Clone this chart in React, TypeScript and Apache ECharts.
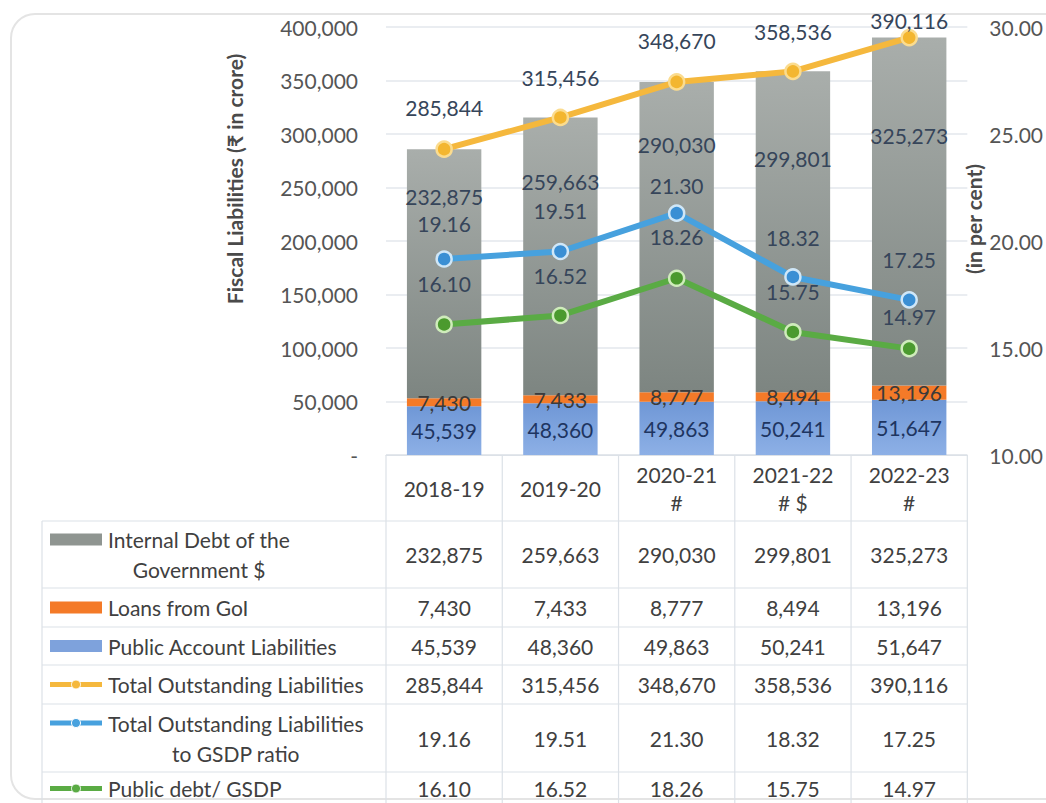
import React, { useEffect, useRef } from "react";
import * as echarts from "echarts";

// ---------- data ----------
const categories = ["2018-19", "2019-20", "2020-21\n#", "2021-22\n# $", "2022-23\n#"];
const internalDebt = [232875, 259663, 290030, 299801, 325273];
const loansFromGoI = [7430, 7433, 8777, 8494, 13196];
const publicAccount = [45539, 48360, 49863, 50241, 51647];
const totalLiabilities = [285844, 315456, 348670, 358536, 390116];
const tolToGsdp = [19.16, 19.51, 21.3, 18.32, 17.25];
const publicDebtToGsdp = [16.1, 16.52, 18.26, 15.75, 14.97];
const leftAxisMin = 0;
const leftAxisMax = 400000;
const leftAxisStep = 50000;
const rightAxisMin = 10;
const rightAxisMax = 30;
const rightAxisStep = 5;

// ---------- styling ----------
const FONT = "Lato, 'Open Sans', sans-serif";
const FS = 21;
const LABEL_DARK = "#36455a";
const TEXT = "#404040";
const GRID_LINE = "#e3e7ec";
const TABLE_LINE = "#dce1e7";
const C_YELLOW = "#f5b83d";
const C_BLUE = "#47a1de";
const C_GREEN = "#5aab44";
const C_ORANGE = "#f47a28";

// label placement tweaks (pixels), mirroring the hand-placed labels of the original
const debtLabelGap = [37, 54, 52, 77, 87];
const yellowLabelGap = [22, 21, 22, 21, -2];
const blueLabelGap = [16, 22, 8, 20, 21];
const greenLabelGap = [22, 21, 22, 21, 13];

const fmtInt = (v: number) => Number(v).toLocaleString("en-US");
const fmt2 = (v: number) => Number(v).toFixed(2);

const greyGrad = () =>
  new echarts.graphic.LinearGradient(0, 0, 0, 1, [
    { offset: 0, color: "#a9aeab" },
    { offset: 1, color: "#7d8581" },
  ]);
const blueGrad = () =>
  new echarts.graphic.LinearGradient(0, 0, 0, 1, [
    { offset: 0, color: "#6f97d6" },
    { offset: 1, color: "#8db0e6" },
  ]);

function buildOption(): any {
  const lineSeries = (
    name: string,
    data: number[],
    axis: number,
    color: string,
    fill: string,
    border: string,
    gaps: number[],
    fmt: (v: number) => string
  ) => ({
    name,
    type: "line",
    yAxisIndex: axis,
    data: data.map((v, i) => ({ value: v, label: { distance: gaps[i] } })),
    symbol: "circle",
    symbolSize: 15,
    lineStyle: { color, width: 6 },
    itemStyle: { color: fill, borderColor: border, borderWidth: 2.5 },
    label: {
      show: true,
      position: "top",
      fontFamily: FONT,
      fontSize: FS,
      color: LABEL_DARK,
      formatter: (p: any) => fmt(p.value),
    },
    z: 5,
  });

  return {
    animation: false,
    textStyle: { fontFamily: FONT },
    grid: { left: 386, right: 78, top: 27, bottom: 348, containLabel: false },
    xAxis: {
      type: "category",
      data: categories,
      axisLine: { show: true, lineStyle: { color: TABLE_LINE, width: 1 } },
      axisTick: { show: false },
      axisLabel: {
        fontFamily: FONT,
        fontSize: FS,
        color: TEXT,
        lineHeight: 28,
        verticalAlign: "middle",
        margin: 33,
        interval: 0,
      },
    },
    yAxis: [
      {
        type: "value",
        min: leftAxisMin,
        max: leftAxisMax,
        interval: leftAxisStep,
        axisLine: { show: false },
        axisTick: { show: false },
        splitLine: { lineStyle: { color: GRID_LINE, width: 1.5 } },
        axisLabel: {
          fontFamily: FONT,
          fontSize: FS,
          color: "#555",
          margin: 28,
          formatter: (v: number) => (v === 0 ? "-" : fmtInt(v)),
        },
      },
      {
        type: "value",
        min: rightAxisMin,
        max: rightAxisMax,
        interval: rightAxisStep,
        axisLine: { show: false },
        axisTick: { show: false },
        splitLine: { show: false },
        axisLabel: {
          fontFamily: FONT,
          fontSize: FS,
          color: "#555",
          margin: 22,
          formatter: (v: number) => fmt2(v),
        },
      },
    ],
    series: [
      {
        name: "Public Account Liabilities",
        type: "bar",
        stack: "debt",
        barWidth: "64%",
        data: publicAccount,
        itemStyle: { color: blueGrad() },
        label: {
          show: true,
          position: "inside",
          fontFamily: FONT,
          fontSize: FS,
          color: "#1e3561",
          formatter: (p: any) => fmtInt(p.value),
        },
      },
      {
        name: "Loans from GoI",
        type: "bar",
        stack: "debt",
        data: loansFromGoI,
        itemStyle: { color: C_ORANGE },
        label: {
          show: true,
          position: "inside",
          fontFamily: FONT,
          fontSize: FS,
          color: "#3b3b3b",
          formatter: (p: any) => fmtInt(p.value),
        },
      },
      {
        name: "Internal Debt of the Government $",
        type: "bar",
        stack: "debt",
        data: internalDebt.map((v, i) => ({ value: v, label: { distance: debtLabelGap[i] } })),
        itemStyle: { color: greyGrad() },
        label: {
          show: true,
          position: "insideTop",
          fontFamily: FONT,
          fontSize: FS,
          color: LABEL_DARK,
          formatter: (p: any) => fmtInt(p.value),
        },
      },
      lineSeries("Total Outstanding Liabilities", totalLiabilities, 0, C_YELLOW, "#f3b630", "#fbdc8f", yellowLabelGap, fmtInt),
      lineSeries("Total Outstanding Liabilities to GSDP ratio", tolToGsdp, 1, C_BLUE, "#3a8fd4", "#cfe7f8", blueLabelGap, fmt2),
      lineSeries("Public debt/ GSDP", publicDebtToGsdp, 1, C_GREEN, "#4b9a2e", "#cfecbb", greenLabelGap, fmt2),
    ],
  };
}

function measure(text: string, font: string): number {
  const c = document.createElement("canvas").getContext("2d");
  if (!c) return text.length * 10;
  c.font = font;
  return c.measureText(text).width;
}

function txt(x: number, y: number, text: string, align: string, extra: any = {}) {
  return {
    type: "text",
    x,
    y,
    silent: true,
    z: 10,
    style: {
      text,
      fontFamily: FONT,
      fontSize: FS,
      fill: TEXT,
      align,
      textAlign: align,
      verticalAlign: "middle",
      textVerticalAlign: "middle",
      ...extra,
    },
  };
}

function hline(x1: number, x2: number, y: number) {
  return {
    type: "line",
    silent: true,
    z: 1,
    shape: { x1, y1: y, x2, y2: y },
    style: { stroke: TABLE_LINE, lineWidth: 1.2 },
  };
}
function vline(x: number, y1: number, y2: number) {
  return {
    type: "line",
    silent: true,
    z: 1,
    shape: { x1: x, y1, x2: x, y2 },
    style: { stroke: TABLE_LINE, lineWidth: 1.2 },
  };
}

export default function App() {
  const ref = useRef<HTMLDivElement>(null);
  useEffect(() => {
    document.body.style.margin = "0";
    if (!ref.current) return;
    const chart = echarts.init(ref.current, null, { renderer: "svg" });
    chart.setOption(buildOption());

    const centers = categories.map((_, i) => chart.convertToPixel({ xAxisIndex: 0 }, i) as number);
    const band = centers[1] - centers[0];
    const edges = [centers[0] - band / 2, ...centers.map((c) => c + band / 2)];
    const tableTop = chart.convertToPixel({ yAxisIndex: 0 }, leftAxisMin) as number;
    const tableLeft = 42;
    const bottom = 803;
    const rowEdges = [521, 588, 627, 665, 704, 772];
    const swatchX = 50;
    const swatchW = 52;
    const textX = 108;
    const fontStr = `${FS}px Lato`;

    const rows = [
      { label: ["Internal Debt of the", "Government $"], values: internalDebt, fmt: fmtInt, kind: "bar", color: "#8f9591" },
      { label: ["Loans from GoI"], values: loansFromGoI, fmt: fmtInt, kind: "bar", color: C_ORANGE },
      { label: ["Public Account Liabilities"], values: publicAccount, fmt: fmtInt, kind: "bar", color: "#7ea2dc" },
      { label: ["Total Outstanding Liabilities"], values: totalLiabilities, fmt: fmtInt, kind: "line", color: C_YELLOW },
      { label: ["Total Outstanding Liabilities", "to GSDP ratio"], values: tolToGsdp, fmt: fmt2, kind: "line", color: C_BLUE },
      { label: ["Public debt/ GSDP"], values: publicDebtToGsdp, fmt: fmt2, kind: "line", color: C_GREEN },
    ];

    const els: any[] = [];
    // card outline
    els.push({
      type: "rect",
      silent: true,
      z: -10,
      shape: { x: 11, y: 14, width: 1060, height: 785, r: 24 },
      style: { fill: "none", stroke: "#e4e4e4", lineWidth: 2 },
    });
    // table grid
    els.push(hline(edges[0], edges[5], tableTop));
    rowEdges.forEach((y) => els.push(hline(tableLeft, edges[5], y)));
    els.push(vline(tableLeft, rowEdges[0], bottom));
    edges.forEach((x) => els.push(vline(x, tableTop, bottom)));

    rows.forEach((row, r) => {
      const top = rowEdges[r];
      const bot = r + 1 < rowEdges.length ? rowEdges[r + 1] : 805;
      const mid = (top + bot) / 2;
      const multi = row.label.length > 1;
      const firstY = multi ? mid - 15 : mid;
      // swatch
      if (row.kind === "bar") {
        els.push({
          type: "rect",
          silent: true,
          z: 10,
          shape: { x: swatchX, y: firstY - 6, width: swatchW, height: 12 },
          style: { fill: row.color },
        });
      } else {
        els.push({
          type: "line",
          silent: true,
          z: 10,
          shape: { x1: swatchX, y1: firstY, x2: swatchX + swatchW, y2: firstY },
          style: { stroke: row.color, lineWidth: 5 },
        });
        els.push({
          type: "circle",
          silent: true,
          z: 11,
          shape: { cx: swatchX + swatchW / 2, cy: firstY, r: 4.5 },
          style: { fill: row.color, stroke: "#ffffff", lineWidth: 1 },
        });
      }
      // label text
      els.push(txt(textX, firstY, row.label[0], "left"));
      if (multi) {
        const w = measure(row.label[0], fontStr);
        els.push(txt(textX + w / 2, firstY + 30, row.label[1], "center"));
      }
      // values
      row.values.forEach((v, i) => {
        els.push(txt(centers[i], mid, row.fmt(v), "center"));
      });
    });

    // axis titles
    els.push({
      type: "text",
      silent: true,
      z: 10,
      x: 234,
      y: 179,
      rotation: Math.PI / 2,
      style: {
        text: "Fiscal Liabilities (₹ in crore)",
        fontFamily: FONT,
        fontSize: FS,
        fontWeight: "bold",
        fill: "#4a4a4a",
        align: "center",
        textAlign: "center",
        verticalAlign: "middle",
        textVerticalAlign: "middle",
      },
    });
    els.push({
      type: "text",
      silent: true,
      z: 10,
      x: 973,
      y: 219,
      rotation: Math.PI / 2,
      style: {
        text: "(in per cent)",
        fontFamily: FONT,
        fontSize: FS,
        fontWeight: "bold",
        fill: "#4a4a4a",
        align: "center",
        textAlign: "center",
        verticalAlign: "middle",
        textVerticalAlign: "middle",
      },
    });

    chart.setOption({ graphic: { elements: els } });
    return () => chart.dispose();
  }, []);
  return <div ref={ref} style={{ width: 1046, height: 803 }} />;
}
